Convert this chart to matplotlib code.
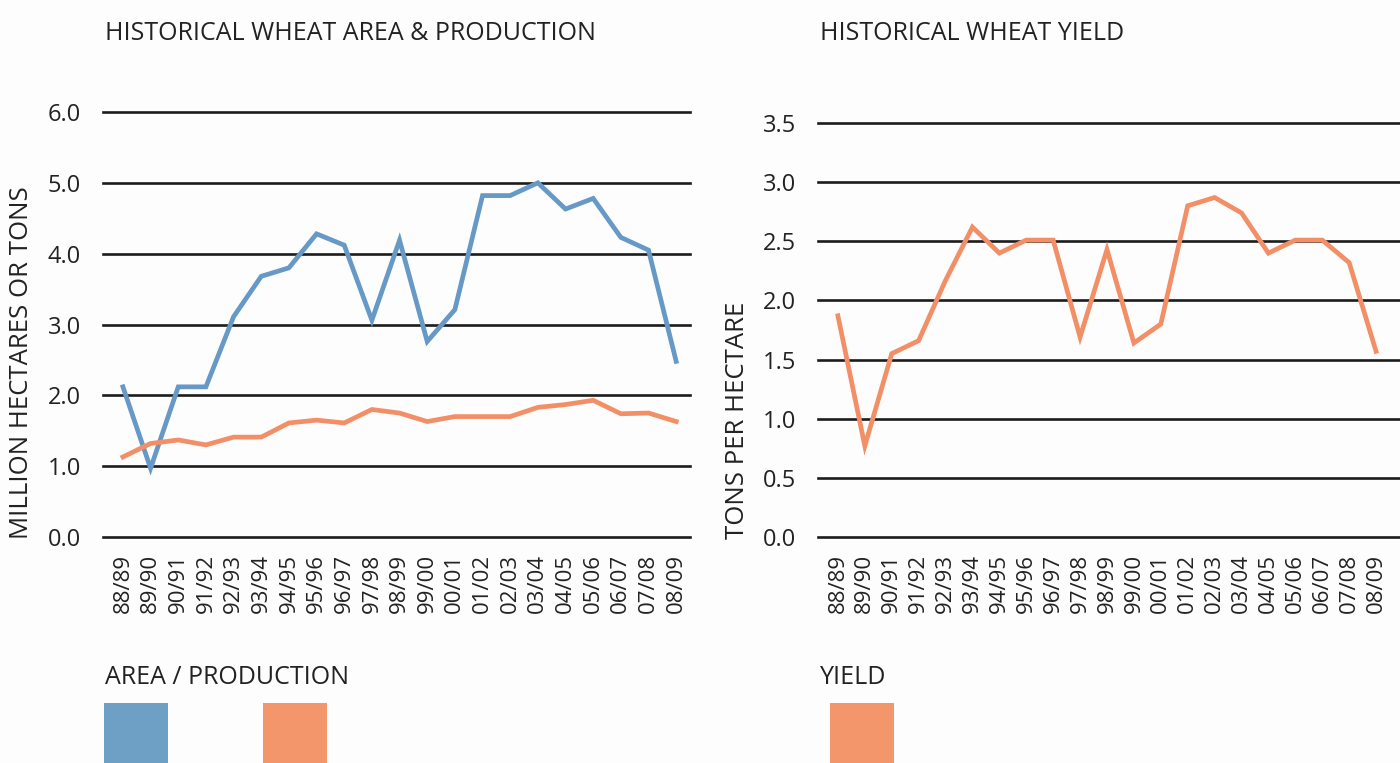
import matplotlib
matplotlib.use("Agg")
import matplotlib.pyplot as plt
from matplotlib.patches import Rectangle

plt.rcParams['font.family'] = ['Open Sans', 'DejaVu Sans']

# ---------------- data ----------------
seasons = ['88/89', '89/90', '90/91', '91/92', '92/93', '93/94', '94/95',
           '95/96', '96/97', '97/98', '98/99', '99/00', '00/01', '01/02',
           '02/03', '03/04', '04/05', '05/06', '06/07', '07/08', '08/09']
area = [2.12, 0.97, 2.12, 2.12, 3.11, 3.68, 3.80, 4.28, 4.12, 3.06, 4.19,
        2.76, 3.21, 4.82, 4.82, 5.00, 4.63, 4.78, 4.23, 4.05, 2.48]
production = [1.13, 1.32, 1.37, 1.30, 1.41, 1.41, 1.61, 1.65, 1.61, 1.80, 1.75,
              1.63, 1.70, 1.70, 1.70, 1.83, 1.87, 1.93, 1.74, 1.75, 1.63]
yield_t = [1.87, 0.77, 1.55, 1.66, 2.17, 2.62, 2.40, 2.51, 2.51, 1.69, 2.43,
           1.64, 1.80, 2.80, 2.87, 2.74, 2.40, 2.51, 2.51, 2.32, 1.57]
left_ticks = [0.0, 1.0, 2.0, 3.0, 4.0, 5.0, 6.0]
right_ticks = [0.0, 0.5, 1.0, 1.5, 2.0, 2.5, 3.0, 3.5]

BLUE = '#6699c6'
ORANGE = '#f28f66'
BLUE_SW = '#6ea0c6'
ORANGE_SW = '#f4966c'
GRID = '#1c1c1c'
TXT = '#222222'

W, H = 1400, 763
fig = plt.figure(figsize=(W / 100, H / 100), dpi=100)
fig.patch.set_facecolor('#fdfdfd')


def rect(x0, x1, ytop, ybot):
    return [x0 / W, 1 - ybot / H, (x1 - x0) / W, (ybot - ytop) / H]


def style(ax, ticks, xlim):
    ax.set_facecolor('none')
    for s in ax.spines.values():
        s.set_visible(False)
    for t in ticks:
        ax.axhline(t, color=GRID, lw=1.9, clip_on=False, zorder=1)
    ax.set_ylim(ticks[0], ticks[-1])
    ax.set_yticks(ticks)
    ax.set_yticklabels([f'{t:.1f}' for t in ticks])
    x = list(range(len(seasons)))
    ax.set_xticks(x)
    ax.set_xticklabels(seasons, rotation=90, va='top', ha='center')
    ax.set_xlim(*xlim)
    ax.tick_params(axis='y', length=0, pad=16, labelsize=17, labelcolor=TXT)
    ax.tick_params(axis='x', length=0, pad=12, labelsize=16, labelcolor=TXT)
    return x


# left panel
axL = fig.add_axes(rect(103, 690, 112, 537))
x = style(axL, left_ticks, (-0.72, 20.5))
axL.plot(x, area, color=BLUE, lw=3.4, zorder=3, clip_on=False,
         solid_joinstyle='miter')
axL.plot(x, production, color=ORANGE, lw=3.4, zorder=3, clip_on=False,
         solid_joinstyle='miter')

# right panel
axR = fig.add_axes(rect(818, 1400, 123, 537))
x = style(axR, right_ticks, (-0.74, 20.89))
axR.plot(x, yield_t, color=ORANGE, lw=3.4, zorder=3, clip_on=False,
         solid_joinstyle='miter')

# titles
fig.text(105 / W, 1 - 34 / H, 'HISTORICAL WHEAT AREA & PRODUCTION',
         fontsize=18, color=TXT, va='center', ha='left')
fig.text(820 / W, 1 - 34 / H, 'HISTORICAL WHEAT YIELD',
         fontsize=18, color=TXT, va='center', ha='left')

# axis labels
fig.text(22 / W, 1 - 539 / H, 'MILLION HECTARES OR TONS', rotation=90,
         fontsize=18.5, color=TXT, ha='center', va='bottom')
fig.text(737 / W, 1 - 539 / H, 'TONS PER HECTARE', rotation=90,
         fontsize=18.5, color=TXT, ha='center', va='bottom')

# legends
fig.text(105 / W, 1 - 677 / H, 'AREA / PRODUCTION', fontsize=18, color=TXT,
         va='center', ha='left')
fig.text(820 / W, 1 - 677 / H, 'YIELD', fontsize=18, color=TXT,
         va='center', ha='left')
for x0, c in [(104, BLUE_SW), (263, ORANGE_SW), (830, ORANGE_SW)]:
    fig.patches.append(Rectangle((x0 / W, 0), 64 / W, (H - 703) / H,
                                 transform=fig.transFigure, color=c, lw=0))

fig.savefig('out.png', dpi=100, facecolor=fig.get_facecolor())
